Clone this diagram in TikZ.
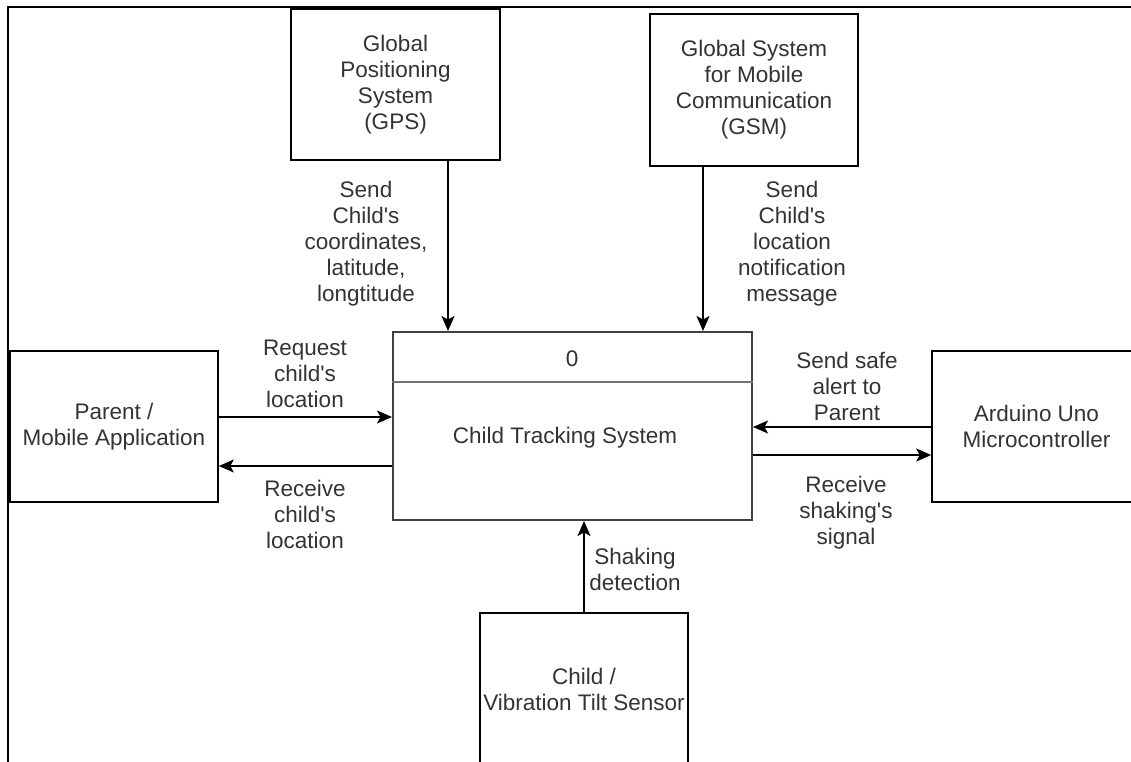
\documentclass[tikz,border=0pt]{standalone}
\usepackage{fontspec}
\setmainfont{Liberation Sans}
\usetikzlibrary{arrows.meta}
\definecolor{txt}{HTML}{333333}
\newcommand{\fsz}{\fontsize{22.5}{26}\selectfont}
\newcommand{\ap}{\textquotesingle}
\tikzset{
  box/.style={draw=black, line width=1.6pt, rectangle, inner sep=0pt, font=\fsz, text=txt, align=center},
  lbl/.style={text=txt, font=\fsz, align=center, inner sep=0pt},
  flow/.style={-{Stealth[length=15pt,width=13pt,inset=3.5pt]}, line width=1.6pt},
}
\begin{document}
\begin{tikzpicture}[x=1pt,y=-1pt]
\useasboundingbox (0,0) rectangle (1131,762);
\fill[white] (0,0) rectangle (1131,762);
% outer frame (cropped)
\draw[line width=2.5pt] (8,764) -- (8,7) -- (1133,7);

% boxes
\node[box, minimum width=209pt, minimum height=151pt] (gps) at (395.5,84.5) {Global\\Positioning\\System\\(GPS)};
\node[box, minimum width=208pt, minimum height=152pt] (gsm) at (754,90) {Global System\\for Mobile\\Communication\\(GSM)};
\node[box, minimum width=208pt, minimum height=151pt] (parent) at (114,426.5) {Parent /\\Mobile Application};
\node[box, minimum width=209pt, minimum height=151pt] (ard) at (1036.5,426.5) {Arduino Uno\\Microcontroller};
\node[box, minimum width=208pt, minimum height=153pt] (child) at (584,689.5) {Child /\\Vibration Tilt Sensor};
\node[box, draw=black!75, line width=2pt, minimum width=359pt, minimum height=188pt] (proc) at (572.5,426) {};

% process box contents
\coordinate (dv) at (0,382);
\draw[black!55, line width=2pt] (proc.west |- dv) -- (proc.east |- dv);
\node[lbl] (pid) at (572,359) {0};
\node[lbl] (pname) at (565,438) {Child Tracking System};

% connector positions
\coordinate (ga) at (448,0);
\coordinate (sa) at (703,0);
\coordinate (req) at (0,417);
\coordinate (rcv) at (0,466);
\coordinate (safe) at (0,427);
\coordinate (shk) at (0,455);

\draw[flow] (gps.south -| ga) -- (proc.north -| ga);
\draw[flow] (gsm.south -| sa) -- (proc.north -| sa);
\draw[flow] (parent.east |- req) -- (proc.west |- req);
\draw[flow] (proc.west |- rcv) -- (parent.east |- rcv);
\draw[flow] (ard.west |- safe) -- (proc.east |- safe);
\draw[flow] (proc.east |- shk) -- (ard.west |- shk);
\draw[flow] (child.north) -- (proc.south -| child.north);

% labels
\node[lbl] (lgps) at (366,244) {Send\\Child\ap s\\coordinates,\\latitude,\\longtitude};
\node[lbl] (lgsm) at (792,244) {Send\\Child\ap s\\location\\notification\\message};
\node[lbl] (lreq) at (305,374) {Request\\child\ap s\\location};
\node[lbl] (lrcv) at (305,514) {Receive\\child\ap s\\location};
\node[lbl] (lsafe) at (847,386) {Send safe\\alert to\\Parent};
\node[lbl] (lshake) at (846,513) {Receive\\shaking\ap s\\signal};
\node[lbl] (ldet) at (635,569) {Shaking\\detection};
\end{tikzpicture}
\end{document}
